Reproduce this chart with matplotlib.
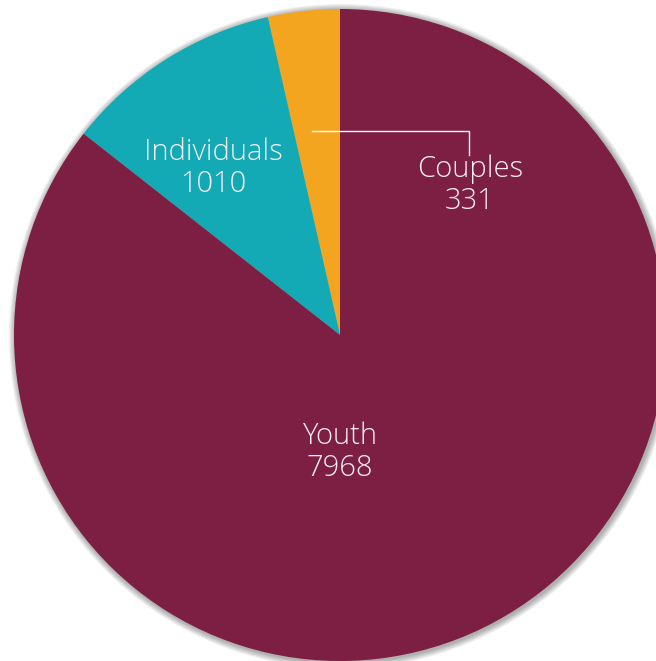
import numpy as np
import matplotlib.pyplot as plt
from matplotlib.patches import Circle

categories = ["Couples", "Individuals", "Youth"]
values = [331, 1010, 7968]
colors = ["#F4A51F", "#13AAB5", "#7D1F42"]

# pixel geometry of the pie in the reference
cx, cy, r = 340, 335, 326
W, H = 656, 661

fig = plt.figure(figsize=(W / 100, H / 100), dpi=100)
ax = fig.add_axes([0, 0, 1, 1])

# soft shadow round the rim
for k in range(8, 0, -1):
    ax.add_patch(Circle((0.004, -0.004), 1 + k * 0.0025, color="#000000",
                        alpha=0.045, lw=0, zorder=0))

wedges, _ = ax.pie(values, colors=colors, startangle=90, counterclock=True,
                   radius=1, wedgeprops=dict(linewidth=0))
for w in wedges:
    w.set_zorder(1)

ax.set_xlim(-cx / r, (W - cx) / r)
ax.set_ylim(-(H - cy) / r, cy / r)
ax.set_aspect("equal")
ax.axis("off")


def px(x, y):
    return (x - cx) / r, (cy - y) / r


font = dict(family=["Open Sans", "DejaVu Sans"], fontweight="light",
            fontsize=21, color="#F6EEF1", ha="center", va="center",
            linespacing=1.1, zorder=3)

label_pos = {"Individuals": (213, 168), "Couples": (470, 185), "Youth": (340, 452)}
for name, v in zip(categories, values):
    x, y = px(*label_pos[name])
    ax.text(x, y, "{}\n{}".format(name, v), **font)

# leader line for the small slice
lx = [px(312, 131)[0], px(469, 131)[0], px(469, 155)[0]]
ly = [px(312, 131)[1], px(469, 131)[1], px(469, 155)[1]]
ax.plot(lx, ly, color="white", lw=1, zorder=3)

plt.savefig("out.png", dpi=100)
